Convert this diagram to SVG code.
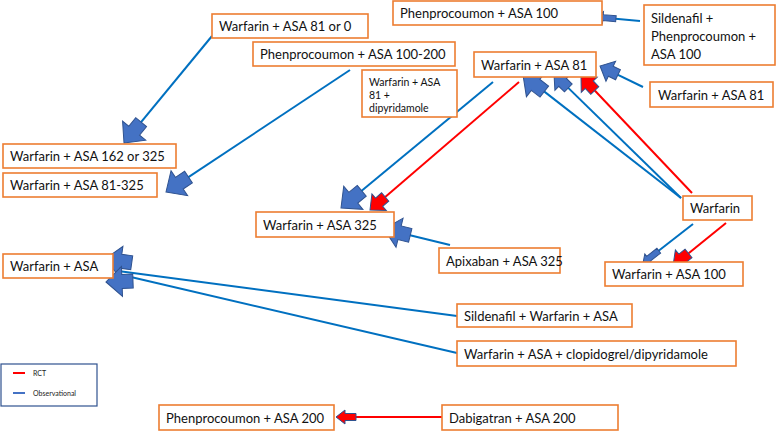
<svg xmlns="http://www.w3.org/2000/svg" xmlns:xlink="http://www.w3.org/1999/xlink" width="776" height="431" viewBox="0 0 776 431">
<style>
.box{fill:#fff;stroke:#ed7d31;stroke-width:1.6}
.t{font-family:Lato,"Liberation Sans",sans-serif;font-size:13px;fill:#111}
.ts{font-family:Lato,"Liberation Sans",sans-serif;font-size:10.5px;fill:#111}
.tl{font-family:Lato,"Liberation Sans",sans-serif;font-size:7px;fill:#222}
.lb{stroke:#0070c0;stroke-width:2;fill:none}
.lr{stroke:#ff0000;stroke-width:2;fill:none}
.hb{fill:#4472c4;stroke:#2f528f;stroke-width:1}
.hr{fill:#ff0000;stroke:#2f528f;stroke-width:1}
</style>
<defs>
<path id="big" d="M0,0 L-16,-15 L-16,-7 L-27,-7 L-27,7 L-16,7 L-16,15 Z"/>
<path id="med" d="M0,0 L-12,-11 L-12,-5.5 L-20,-5.5 L-20,5.5 L-12,5.5 L-12,11 Z"/>
<path id="small" d="M0,0 L-7,-6 L-7,-3 L-20,-3 L-20,3 L-7,3 L-7,6 Z"/>
<path id="smallr" d="M0,0 L-9,-7 L-9,-3.5 L-20,-3.5 L-20,3.5 L-9,3.5 L-9,7 Z"/>
</defs>
<rect width="776" height="431" fill="#fff"/>
<g id="connectors">
<line class="lb" x1="212" y1="36" x2="131.6" y2="133.7"/>
<use href="#big" class="hb" transform="translate(124,143) rotate(129.4)"/>
<line class="lb" x1="350" y1="70" x2="176" y2="185.4"/>
<use href="#big" class="hb" transform="translate(166,192) rotate(146.4)"/>
<line class="lb" x1="640" y1="21" x2="610" y2="18.3"/>
<use href="#small" class="hb" transform="translate(596,17) rotate(185.2)"/>
<line class="lb" x1="493" y1="82" x2="350.2" y2="200.3"/>
<use href="#big" class="hb" transform="translate(341,208) rotate(140.3)"/>
<line class="lr" x1="519" y1="82" x2="379.1" y2="202.2"/>
<use href="#med" class="hr" transform="translate(370,210) rotate(139.3)"/>
<line class="lb" x1="681" y1="198" x2="532.5" y2="82.4"/>
<use href="#big" class="hb" transform="translate(523,75) rotate(217.9)"/>
<line class="lb" x1="681" y1="198" x2="562.6" y2="82.4"/>
<use href="#med" class="hb" transform="translate(554,74) rotate(224.3)"/>
<line class="lr" x1="692" y1="193" x2="589.3" y2="84.7"/>
<use href="#med" class="hr" transform="translate(581,76) rotate(226.5)"/>
<line class="lb" x1="643" y1="87" x2="610.8" y2="71.3"/>
<use href="#med" class="hb" transform="translate(600,66) rotate(206)"/>
<line class="lb" x1="450" y1="245" x2="395.7" y2="231.8"/>
<use href="#big" class="hb" transform="translate(384,229) rotate(193.6)"/>
<line class="lb" x1="693" y1="224" x2="654.8" y2="253.8"/>
<use href="#small" class="hb" transform="translate(643,263) rotate(142)"/>
<line class="lr" x1="726" y1="223" x2="682.3" y2="258.4"/>
<use href="#med" class="hr" transform="translate(673,266) rotate(140.9)"/>
<line class="lb" x1="457" y1="316" x2="118" y2="271"/>
<line class="lb" x1="457" y1="353" x2="118" y2="274"/>
<use href="#big" class="hb" transform="translate(105,259) rotate(188)"/>
<use href="#big" class="hb" transform="translate(106,282) rotate(178)"/>
<line class="lr" x1="442" y1="417" x2="350" y2="417"/>
<use href="#smallr" class="hr" transform="translate(336,417) rotate(180)"/>
</g>
<g id="n1"><rect class="box" x="212" y="14" width="156" height="24"/><text class="t" x="219" y="31">Warfarin + ASA 81 or 0</text></g>
<g id="n2"><rect class="box" x="253" y="42" width="202" height="24"/><text class="t" x="260" y="59">Phenprocoumon + ASA 100-200</text></g>
<g id="n3"><rect class="box" x="393" y="1" width="209" height="24"/><text class="t" x="400" y="18">Phenprocoumon + ASA 100</text></g>
<g id="n4"><rect class="box" x="644" y="5" width="131" height="60"/><text class="t" x="651" y="23">Sildenafil +</text><text class="t" x="651" y="41">Phenprocoumon +</text><text class="t" x="651" y="59">ASA 100</text></g>
<g id="n5"><rect class="box" x="474" y="52" width="122" height="25"/><text class="t" x="481" y="70">Warfarin + ASA 81</text></g>
<g id="n6"><rect class="box" x="362" y="70" width="95" height="47"/><text class="ts" x="369" y="86">Warfarin + ASA</text><text class="ts" x="369" y="99">81 +</text><text class="ts" x="369" y="112">dipyridamole</text></g>
<g id="n7"><rect class="box" x="650" y="82" width="123" height="25"/><text class="t" x="658" y="100">Warfarin + ASA 81</text></g>
<g id="n8"><rect class="box" x="3" y="144" width="173" height="24"/><text class="t" x="10" y="161">Warfarin + ASA 162 or 325</text></g>
<g id="n9"><rect class="box" x="3" y="173" width="154" height="24"/><text class="t" x="10" y="190">Warfarin + ASA 81-325</text></g>
<g id="n10"><rect class="box" x="256" y="212" width="138" height="25"/><text class="t" x="263" y="230">Warfarin + ASA 325</text></g>
<g id="n11"><rect class="box" x="439" y="248" width="121" height="25"/><text class="t" x="446" y="266">Apixaban + ASA 325</text></g>
<g id="n12"><rect class="box" x="683" y="196" width="69" height="24"/><text class="t" x="690" y="213">Warfarin</text></g>
<g id="n13"><rect class="box" x="605" y="262" width="138" height="24"/><text class="t" x="612" y="279">Warfarin + ASA 100</text></g>
<g id="n14"><rect class="box" x="3" y="254" width="110" height="24"/><text class="t" x="10" y="271">Warfarin + ASA</text></g>
<g id="n15"><rect class="box" x="457" y="304" width="175" height="23"/><text class="t" x="464" y="321">Sildenafil + Warfarin + ASA</text></g>
<g id="n16"><rect class="box" x="457" y="341" width="279" height="25"/><text class="t" x="464" y="359">Warfarin + ASA + clopidogrel/dipyridamole</text></g>
<g id="n17"><rect class="box" x="159" y="405" width="175" height="25"/><text class="t" x="166" y="423">Phenprocoumon + ASA 200</text></g>
<g id="n18"><rect class="box" x="442" y="405" width="176" height="25"/><text class="t" x="449" y="423">Dabigatran + ASA 200</text></g>
<g id="legend">
<rect x="1" y="364" width="96" height="42" fill="#fff" stroke="#2f528f" stroke-width="1.2"/>
<line x1="13" y1="373" x2="25" y2="373" stroke="#ff0000" stroke-width="2"/>
<text class="tl" x="33" y="375.5">RCT</text>
<line x1="13" y1="393" x2="25" y2="393" stroke="#4472c4" stroke-width="2"/>
<text class="tl" x="33" y="395.5">Observational</text>
</g>
</svg>
